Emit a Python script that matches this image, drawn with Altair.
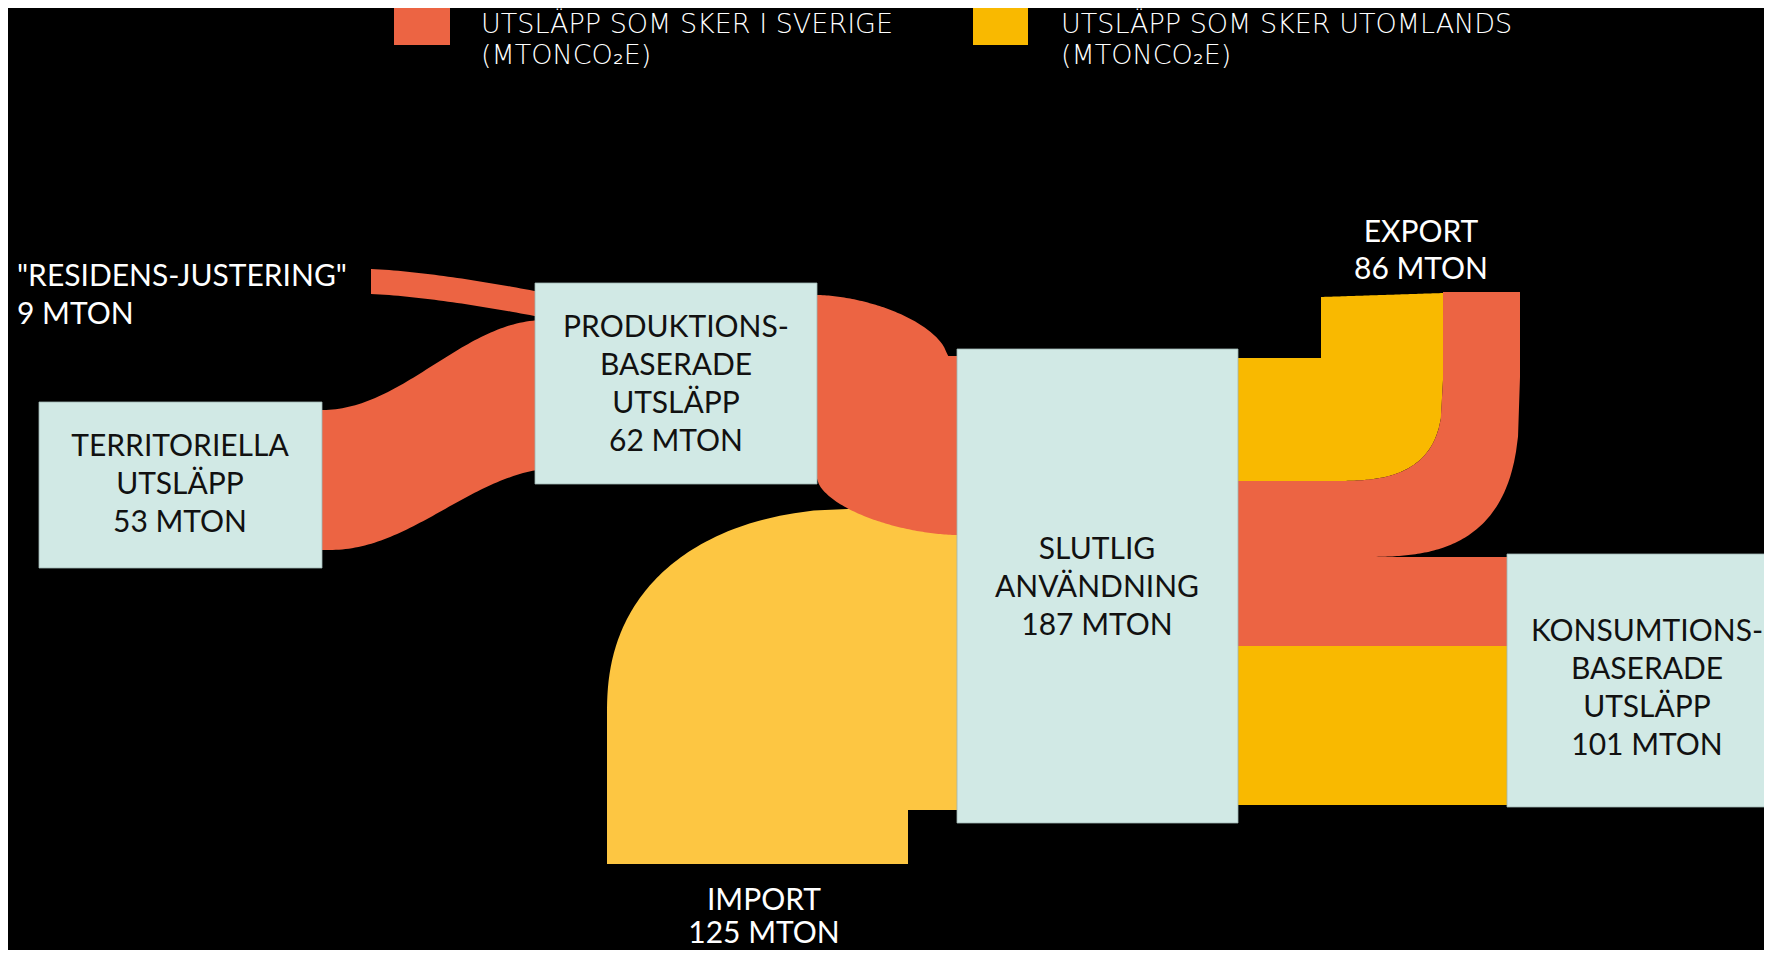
import altair as alt
import numpy as np
import pandas as pd

# ---------------- data ----------------
node_lines = [
    ["TERRITORIELLA", "UTSLÄPP"],
    ["PRODUKTIONS-", "BASERADE", "UTSLÄPP"],
    ["SLUTLIG", "ANVÄNDNING"],
    ["KONSUMTIONS-", "BASERADE", "UTSLÄPP"],
]
node_values = [53, 62, 187, 101]
flow_names = ['"RESIDENS-JUSTERING"', "EXPORT", "IMPORT"]
flow_values = [9, 86, 125]
unit = "MTON"
legend_labels = ["UTSLÄPP SOM SKER I SVERIGE", "UTSLÄPP SOM SKER UTOMLANDS"]
legend_unit = "(MTONCO\u2082E)"

# ---------------- styling / layout (page pixels) ----------------
RED = "#EC6443"
YEL = "#F9B900"
YEL_IMP = "#FDC642"
BOX = "#D1E9E5"
W, H = 1756, 942
E = 0.01  # tiny offset used for vertical steps in band outlines

# node boxes: x0, x1, y0, y1
box_pos = [(39, 322, 402, 568), (535, 817, 283, 484), (957, 1238, 349, 823), (1507, 1775, 554, 807)]
box_text_x = [180, 676, 1097, 1647]
box_text_y0 = [447, 328, 550, 632]
LINE = 38

xs_ = alt.Scale(domain=[8, 8 + W], nice=False, zero=False)
ys_ = alt.Scale(domain=[8 + H, 8], nice=False, zero=False)


def X(f="x"):
    return alt.X(f"{f}:Q", scale=xs_, axis=None)


def Y(f="y"):
    return alt.Y(f"{f}:Q", scale=ys_, axis=None)


def sup(t, n):
    t = np.clip(t, 0, 1)
    return (1 - t ** n) ** (1 / n)


def smooth(t):
    t = np.clip(t, 0, 1)
    return (1 - np.cos(np.pi * t)) / 2


def band(rows):
    return pd.DataFrame(rows, columns=["x", "y", "y2"]).astype(float)


# territoriella -> produktions (53)
xt = np.linspace(310, 565, 80)
terr = band([(x, 410 - 90 * smooth((x - 322) / 223), 550 - 82 * smooth((x - 330) / 230)) for x in xt])

# residens -> produktions (9)
xr = np.linspace(371, 548, 40)
res = band([(x, 269 + 22 * ((x - 371) / 164) ** 1.4, 294 + 22 * ((x - 371) / 164) ** 1.4) for x in xr])

# produktions -> slutlig (62)
xp = np.linspace(805, 960, 80)
prod = band([(x,
              295 if x <= 817 else 356 - 61 * sup((x - 817) / 130, 1.7),
              478 + 57 * sup((957 - x) / 140, 1.7)) for x in xp])

# import -> slutlig (125), horizontal band: y, x (left), x2 (right)
yi = list(np.linspace(508, 713, 80)) + [760, 810]
imp_rows = []
for y in yi:
    xl = 607 if y >= 713 else 870 - 263 * sup((713 - y) / 205, 2.3)
    imp_rows.append((y, xl, 960))
imp_rows.append((810 + E, 607, 908))
imp_rows.append((864, 607, 908))
imp = pd.DataFrame(imp_rows, columns=["y", "x", "x2"]).astype(float)

# export, utomlands part (yellow)
ey = [(1236, 358, 481), (1321, 358, 481)]
for x in np.linspace(1321 + E, 1443, 60):
    top = 297 - 4 * (x - 1321) / 122
    bot = 481 if x <= 1330 else 380 + 101 * sup((x - 1330) / 113, 3)
    ey.append((x, top, bot))
exp_y = band(ey)

# export, sverige part (red U-turn)
er = [(1236, 481, 557)]
for x in np.linspace(1330, 1443, 50):
    top = 380 + 101 * sup((x - 1330) / 113, 3)
    bot = 557 if x <= 1357 else 377 + 180 * sup((x - 1357) / 163, 3)
    er.append((x, top, bot))
for x in np.linspace(1443 + E, 1520, 40):
    er.append((x, 292, 377 + 180 * sup((x - 1357) / 163, 3)))
exp_r = band(er)

# konsumtion bands
kons = pd.DataFrame({"x": [1236, 1236], "x2": [1508, 1508], "y": [557, 646], "y2": [646, 805], "c": [RED, YEL]})


def area(df, color):
    return alt.Chart(df).mark_area(color=color, interpolate="linear").encode(
        x=X(), y=Y(), y2=alt.Y2("y2:Q"))


layers = []
layers.append(alt.Chart(imp).mark_area(orient="horizontal", color=YEL_IMP, interpolate="linear").encode(
    y=Y(), x=X(), x2=alt.X2("x2:Q")))
layers.append(area(prod, RED))
layers.append(area(terr, RED))
layers.append(area(res, RED))
layers.append(area(exp_y, YEL))
layers.append(area(exp_r, RED))
layers.append(alt.Chart(kons).mark_rect().encode(
    x=X(), x2="x2:Q", y=Y(), y2="y2:Q", color=alt.Color("c:N", scale=None)))

boxes = pd.DataFrame(box_pos, columns=["x", "x2", "y", "y2"])
layers.append(alt.Chart(boxes).mark_rect(fill=BOX, stroke="#9fb5b2", strokeWidth=0.8).encode(
    x=X(), x2="x2:Q", y=Y(), y2="y2:Q"))

# box labels
rows = []
for lines, v, tx, ty in zip(node_lines, node_values, box_text_x, box_text_y0):
    for k, t in enumerate(lines + [f"{v} {unit}"]):
        rows.append({"x": tx, "y": ty + k * LINE, "t": t})
layers.append(alt.Chart(pd.DataFrame(rows)).mark_text(
    font="Lato", fontSize=30, color="#111111", align="center", baseline="middle").encode(
    x=X(), y=Y(), text="t:N"))

# flow labels (white)
wl = [
    {"x": 764, "y": 901, "t": flow_names[2]},
    {"x": 764, "y": 934, "t": f"{flow_values[2]} {unit}"},
    {"x": 1421, "y": 233, "t": flow_names[1]},
    {"x": 1421, "y": 270, "t": f"{flow_values[1]} {unit}"},
]
layers.append(alt.Chart(pd.DataFrame(wl)).mark_text(
    font="Lato", fontSize=30, color="white", align="center", baseline="middle").encode(
    x=X(), y=Y(), text="t:N"))
rl = [
    {"x": 17, "y": 277, "t": flow_names[0]},
    {"x": 17, "y": 315, "t": f"{flow_values[0]} {unit}"},
]
layers.append(alt.Chart(pd.DataFrame(rl)).mark_text(
    font="Lato", fontSize=30, color="white", align="left", baseline="middle").encode(
    x=X(), y=Y(), text="t:N"))

# legend
sw = pd.DataFrame({"x": [394, 973], "x2": [450, 1028], "y": [8, 8], "y2": [45, 45], "c": [RED, YEL]})
layers.append(alt.Chart(sw).mark_rect().encode(
    x=X(), x2="x2:Q", y=Y(), y2="y2:Q", color=alt.Color("c:N", scale=None)))
lg = []
for lx, lab in zip([481, 1061], legend_labels):
    lg.append({"x": lx, "y": 25, "t": lab})
    lg.append({"x": lx, "y": 56, "t": legend_unit})
layers.append(alt.Chart(pd.DataFrame(lg)).mark_text(
    font="DejaVu Sans", fontSize=27, fontWeight=300, color="white", align="left", baseline="middle").encode(
    x=X(), y=Y(), text="t:N"))

chart = alt.layer(*layers).properties(
    width=W, height=H, background="black", padding=0,
    autosize=alt.AutoSizeParams(type="none"),
).configure_view(strokeWidth=0)

chart.save("out.html", embed_options={"renderer": "svg", "actions": False})
